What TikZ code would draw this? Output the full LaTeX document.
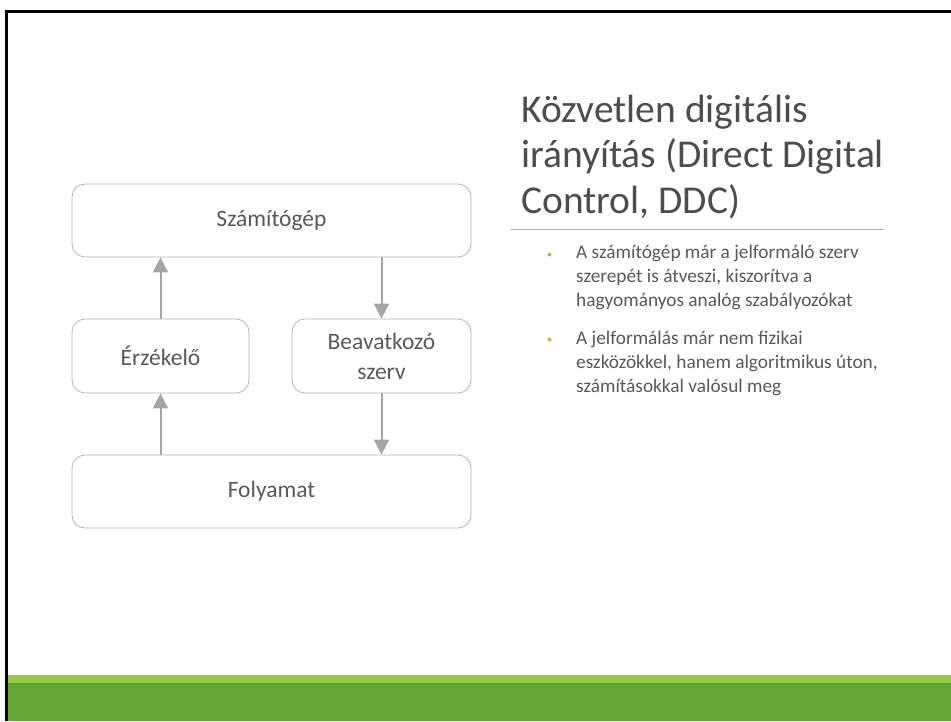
\documentclass[tikz,border=0pt]{standalone}
\usepackage{fontspec}
\setmainfont{Carlito}
\usetikzlibrary{arrows.meta}
\definecolor{boxline}{HTML}{B4B4B4}
\definecolor{arrowgray}{HTML}{A5A5A5}
\definecolor{txtgray}{HTML}{595959}
\definecolor{titlegray}{HTML}{4D4D4D}
\definecolor{lightgreen}{RGB}{155,202,60}
\definecolor{darkgreen}{RGB}{99,166,56}
\tikzset{
  stagebox/.style={draw=boxline, line width=0.8pt, rounded corners=13pt, fill=white,
    inner sep=0pt, align=center, text=txtgray,
    font=\fontsize{23.5}{30}\selectfont},
  flowarrow/.style={draw=arrowgray, line width=2pt,
    -{Triangle[width=15pt,length=15pt]}},
  titleline/.style={anchor=base west, inner sep=0pt, text=titlegray,
    font=\fontsize{39.5}{46}\selectfont},
  bulletline/.style={anchor=base west, inner sep=0pt, text=txtgray,
    font=\fontsize{19.3}{24}\selectfont},
  bulletdot/.style={circle, fill=lightgreen, inner sep=0pt, minimum size=4pt}
}
\begin{document}
\begin{tikzpicture}[x=1pt,y=-1pt]
\useasboundingbox (0,0) rectangle (951,721);
\fill[white] (0,0) rectangle (951,721);
% green footer
\fill[lightgreen] (7,675) rectangle (951,683);
\fill[darkgreen] (7,683) rectangle (951,721);
% black frame
\draw[black, line width=3pt] (6,721) -- (6,11.5) -- (951,11.5);

% diagram boxes
\node[stagebox, minimum width=399pt, minimum height=73pt] (szam) at (271.5,220.5) {Számítógép};
\node[stagebox, minimum width=177pt, minimum height=74pt] (erz) at (160.5,356) {Érzékelő};
\node[stagebox, minimum width=179pt, minimum height=74pt] (beav) at (381.5,356) {Beavatkozó\\szerv};
\node[stagebox, minimum width=399pt, minimum height=73pt] (foly) at (271.5,491.5) {Folyamat};

% connectors
\draw[flowarrow] (erz.north) -- (erz.north |- szam.south);
\draw[flowarrow] (beav.north |- szam.south) -- (beav.north);
\draw[flowarrow] (erz.south |- foly.north) -- (erz.south);
\draw[flowarrow] (beav.south) -- (beav.south |- foly.north);

% title
\node[titleline] (t1) at (521,122) {Közvetlen digitális};
\node[titleline] (t2) at (521,167.5) {irányítás (Direct Digital};
\node[titleline] (t3) at (521,213) {Control, DDC)};
\coordinate (sepL) at (510,229);
\coordinate (sepR) at (884,229);
\draw[boxline, line width=1pt] (sepL) -- (sepR);

% bullets
\node[bulletdot] (d1) at (549.5,254.5) {};
\node[bulletline] (b11) at (576,258) {A számítógép már a jelformáló szerv};
\node[bulletline] (b12) at (576,282) {szerepét is átveszi, kiszorítva a};
\node[bulletline] (b13) at (576,306) {hagyományos analóg szabályozókat};
\node[bulletdot] (d2) at (549.5,339.5) {};
\node[bulletline] (b21) at (576,344) {A jelformálás már nem fizikai};
\node[bulletline] (b22) at (576,368) {eszközökkel, hanem algoritmikus úton,};
\node[bulletline] (b23) at (576,392) {számításokkal valósul meg};
\end{tikzpicture}
\end{document}
